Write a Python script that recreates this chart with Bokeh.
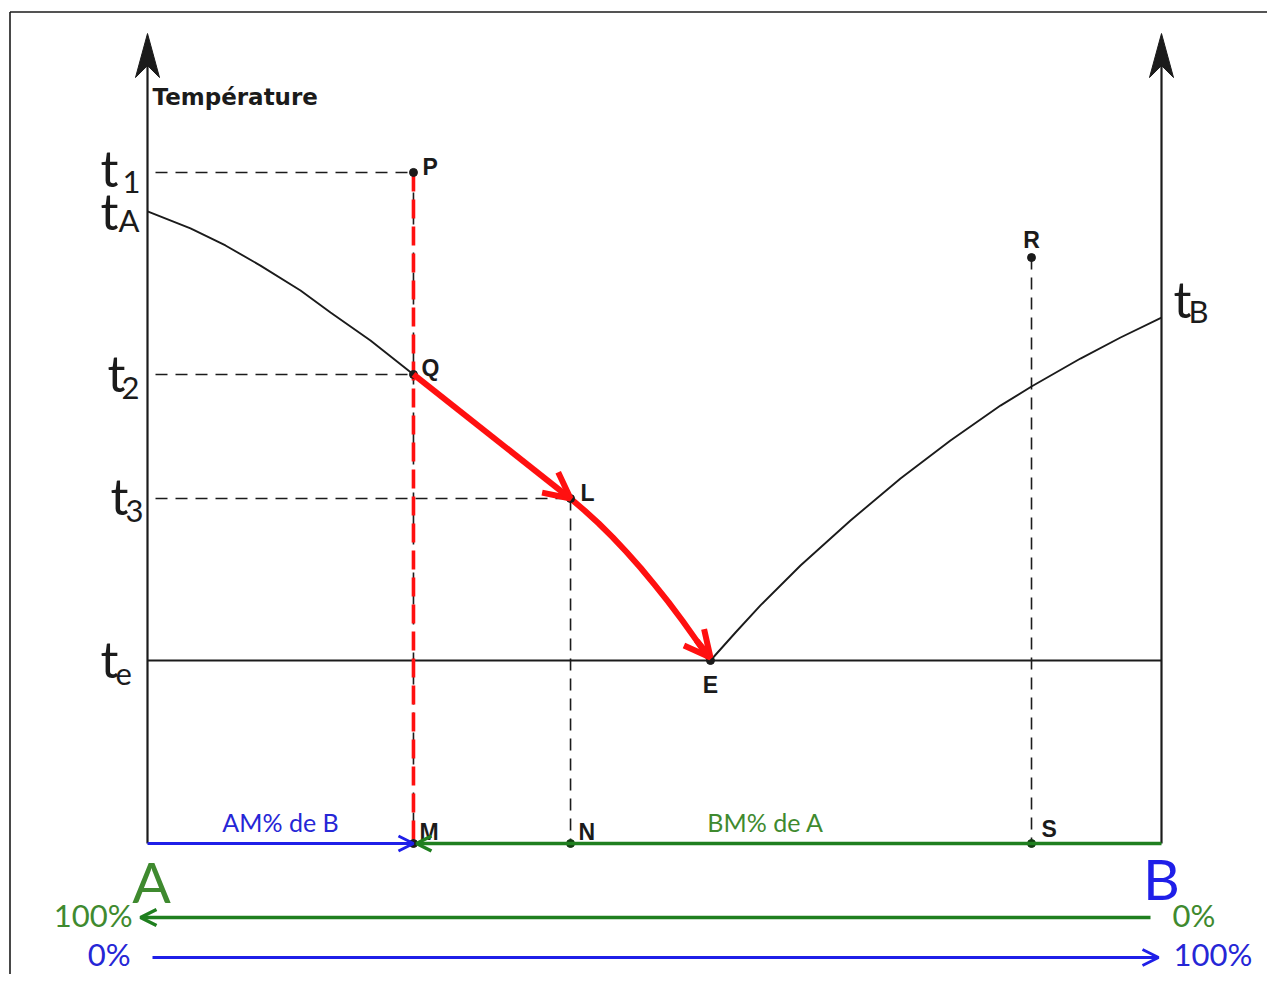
from bokeh.plotting import figure
from bokeh.models import Range1d, Arrow, OpenHead
from bokeh.core.properties import value
from bokeh.embed import file_html
from bokeh.resources import INLINE

# ---------------- data (composition in % of B, temperature in arbitrary units) ----------------
comp_A = 0.0
comp_B = 100.0
comp_M = 26.23   # composition of P, Q, M
comp_N = 41.72   # composition of L, N
comp_E = 55.52   # eutectic composition
comp_S = 87.18   # composition of R, S

t_1 = 366.7
t_A = 345.4
t_2 = 256.3
t_3 = 188.5
t_e = 100.0
t_B = 287.4
t_R = 320.2
t_axis_top = 442.6
t_base = 0.0

# liquidus of A (from t_A down to E) and liquidus of B (from E up to t_B)
liq_A_x = [0.0, 4.24, 7.69, 11.14, 15.09, 18.05, 21.99, 26.23, 33.83, 41.72,
           43.10, 44.48, 45.86, 47.24, 48.62, 50.00, 51.38, 52.76, 54.14, 55.52]
liq_A_t = [345.4, 336.1, 326.8, 315.8, 302.2, 290.2, 274.9, 256.3, 223.0, 188.5,
           182.0, 175.0, 167.4, 159.3, 150.7, 141.5, 131.9, 121.7, 111.0, 100.0]
liq_B_x = [55.52, 57.99, 60.45, 64.40, 69.33, 74.26, 79.19, 84.12, 87.18, 92.01, 95.96, 100.0]
liq_B_t = [100.0, 115.3, 130.1, 151.9, 176.5, 199.5, 220.2, 239.3, 249.7, 265.0, 276.5, 287.4]
idx_L = 9   # index of L in the liquidus of A

temp_names = ["t", "t", "t", "t", "t"]
temp_subs = ["1", "A", "2", "3", "e"]
temp_vals = [t_1, t_A, t_2, t_3, t_e]

point_names = ["P", "Q", "L", "E", "R", "M", "N", "S"]
point_x = [comp_M, comp_M, comp_N, comp_E, comp_S, comp_M, comp_N, comp_S]
point_t = [t_1, t_2, t_3, t_e, t_R, t_base, t_base, t_base]

axis_title = "Température"
left_bottom_label = "AM% de B"
right_bottom_label = "BM% de A"
pct_green = ["100%", "0%"]
pct_blue = ["0%", "100%"]

# ---------------- layout helpers ----------------
PX_X = 10.14   # pixels per % composition
PX_T = 1.83    # pixels per temperature unit
X0, Y0 = 147, 843  # pixel position of (0 %, base temperature) in the figure
W, H = 1267, 974


def dx(px):
    return px / PX_X


def dT(px):
    return px / PX_T


x_start, x_end = dx(0 - X0), dx(W - X0)
y_start, y_end = dT(Y0 - H), dT(Y0 - 0)

BLACK = "#1b1b1b"
RED = "#ff1010"
BLUE = "#1f1fe8"
BLUE_T = "#2626d6"
GREEN = "#1f7f1f"
GREEN_T = "#3f8a2f"

p = figure(width=W, height=H, x_range=Range1d(x_start, x_end), y_range=Range1d(y_start, y_end),
           output_backend="svg", toolbar_location=None, min_border=0,
           min_border_left=0, min_border_right=0, min_border_top=0, min_border_bottom=0)
p.xaxis.visible = False
p.yaxis.visible = False
p.grid.visible = False
p.outline_line_color = None
p.background_fill_color = "white"
p.border_fill_color = "white"

# picture frame (top and left edges)
fl, ft = x_start + dx(9.5), y_end - dT(11.5)
p.line([fl, x_end], [ft, ft], line_color=BLACK, line_width=1.6)
p.line([fl, fl], [ft, y_start], line_color=BLACK, line_width=1.6)

# vertical axes with notched arrow heads
for xa in (comp_A, comp_B):
    p.line([xa, xa], [t_base, t_axis_top - dT(30)], line_color=BLACK, line_width=2.2)
    p.patch([xa, xa - dx(12), xa, xa + dx(12)],
            [t_axis_top, t_axis_top - dT(44), t_axis_top - dT(32), t_axis_top - dT(44)],
            fill_color=BLACK, line_color=BLACK, line_width=1)

# eutectic horizontal
p.line([comp_A, comp_B], [t_e, t_e], line_color=BLACK, line_width=2)

# liquidus curves
p.line(liq_A_x, liq_A_t, line_color=BLACK, line_width=1.9)
p.line(liq_B_x, liq_B_t, line_color=BLACK, line_width=1.9)

# dashed guides
dash = "12 8"
p.line([comp_A, comp_M], [t_1, t_1], line_color=BLACK, line_width=1.6, line_dash=dash, line_dash_offset=12)
p.line([comp_A, comp_M], [t_2, t_2], line_color=BLACK, line_width=1.6, line_dash=dash, line_dash_offset=12)
p.line([comp_A, comp_N], [t_3, t_3], line_color=BLACK, line_width=1.6, line_dash=dash, line_dash_offset=12)
p.line([comp_N, comp_N], [t_3, t_base], line_color=BLACK, line_width=1.6, line_dash=dash)
p.line([comp_S, comp_S], [t_R, t_base], line_color=BLACK, line_width=1.6, line_dash=dash)
p.line([comp_M, comp_M], [t_1, t_base], line_color=BLACK, line_width=1.6, line_dash=dash)
p.line([comp_M, comp_M], [t_1, t_base], line_color=RED, line_width=3.6, line_dash="19 8")

# red cooling path Q -> L -> E
RW = 6
p.add_layout(Arrow(x_start=comp_M, y_start=t_2, x_end=comp_N, y_end=t_3,
                   line_color=RED, line_width=RW,
                   end=OpenHead(size=26, line_color=RED, line_width=RW)))
p.line(liq_A_x[idx_L:], liq_A_t[idx_L:], line_color=RED, line_width=RW, line_cap="round", line_join="round")
p.add_layout(Arrow(x_start=liq_A_x[-2], y_start=liq_A_t[-2], x_end=liq_A_x[-1], y_end=liq_A_t[-1] + dT(3),
                   line_color=RED, line_width=RW,
                   end=OpenHead(size=26, line_color=RED, line_width=RW)))

# composition axis (bottom)
p.add_layout(Arrow(x_start=comp_A, y_start=t_base, x_end=comp_M, y_end=t_base,
                   line_color=BLUE, line_width=3,
                   end=OpenHead(size=15, line_color=BLUE, line_width=3)))
p.add_layout(Arrow(x_start=comp_B, y_start=t_base, x_end=comp_M + dx(3), y_end=t_base,
                   line_color=GREEN, line_width=3.5,
                   end=OpenHead(size=15, line_color=GREEN, line_width=3.5)))

# percentage rows
row_g = t_base - dT(74)
row_b = t_base - dT(114)
p.add_layout(Arrow(x_start=comp_B - dx(11), y_start=row_g, x_end=comp_A - dx(7), y_end=row_g,
                   line_color=GREEN, line_width=3.5,
                   end=OpenHead(size=16, line_color=GREEN, line_width=3.5)))
p.add_layout(Arrow(x_start=comp_A + dx(5), y_start=row_b, x_end=comp_B - dx(3), y_end=row_b,
                   line_color=BLUE, line_width=3,
                   end=OpenHead(size=16, line_color=BLUE, line_width=3)))

# points
dot_colors = [BLACK, BLACK, BLACK, BLACK, BLACK, BLACK, "#123d12", "#123d12"]
p.scatter(point_x, point_t, size=8, color=dot_colors)


def label(xs, ys, texts, xo, yo, font, size, color, align="left", style="normal"):
    p.text(x=xs, y=ys, text=texts, x_offset=xo, y_offset=yo,
           text_font=value(font), text_font_size=value(size), text_color=color,
           text_align=align, text_baseline="alphabetic", text_font_style=style)


# temperature labels on left axis
label([comp_A] * 5, temp_vals, temp_names, [-47, -47, -40, -37, -47], [-4, 0, -1, -3, -2],
      "Lato", "50px", BLACK)
label([comp_A] * 5, temp_vals, temp_subs, [-25, -29, -26, -22, -32], [10, 9, 14, 12, 13],
      "Lato", "31px", BLACK)
# t_B on right axis
label([comp_B], [t_B], ["t"], [12], [-19], "Lato", "50px", BLACK)
label([comp_B], [t_B], ["B"], [27], [-7], "Lato", "31px", BLACK)

# axis title
label([comp_A], [t_axis_top], [axis_title], [5], [63], "DejaVu Sans", "23px", BLACK, style="bold")

# point labels
label(point_x, point_t, point_names, [9, 8, 10, 0, 0, 6, 8, 10], [-5, -6, -6, 24, -18, -12, -12, -15],
      "Liberation Sans", "23px", BLACK, align=["left", "left", "left", "center", "center", "left", "left", "left"],
      style="bold")

# composition texts
label([comp_M / 2], [t_base], [left_bottom_label], [0], [-22], "Lato", "25px", BLUE_T, align="center")
label([(comp_M + comp_B) / 2], [t_base], [right_bottom_label], [-22], [-22], "Lato", "25px", GREEN_T, align="center")
label([comp_A], [t_base], ["A"], [4], [37], "Lato", "57px", GREEN_T, align="center")
label([comp_B], [t_base], ["B"], [0], [34], "Lato", "57px", BLUE, align="center")

label([comp_A, comp_B], [row_g, row_g], pct_green, [-15, 11], [-3, -3], "Lato", "31px", GREEN_T,
      align=["right", "left"])
label([comp_A, comp_B], [row_b, row_b], pct_blue, [-17, 12], [-4, -4], "Lato", "31px", BLUE_T,
      align=["right", "left"])

open("out.html", "w").write(file_html(p, INLINE))
